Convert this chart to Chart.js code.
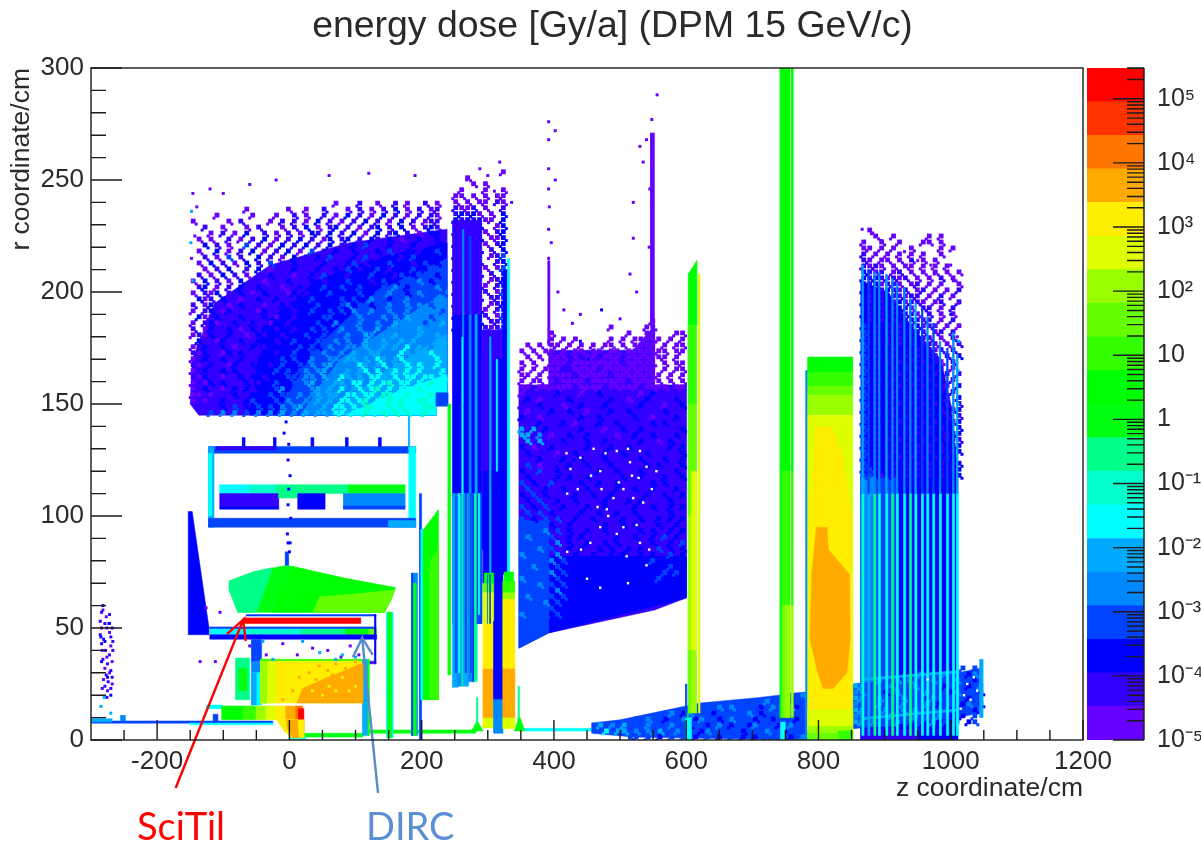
<!DOCTYPE html>
<html lang="en">
<head>
  <meta charset="UTF-8">
  <title>energy dose</title>
  <script src="https://cdn.jsdelivr.net/npm/chart.js"></script>
  <style>
    html, body { margin: 0; background: #fff; overflow: hidden; width: 1201px; height: 846px; }
    canvas { position: absolute; top: 0; filter: blur(.4px); }
    #doseChart { left: 0; }
    #scaleChart { left: 1087px; }
    .note { position: absolute; top: 802px; font: 38px Lato, sans-serif; }
  </style>
</head>
<body>
  <canvas id="doseChart" width="1225" height="846"></canvas>
  <canvas id="scaleChart" width="114" height="846"></canvas>
  <div class="note" style="left:137px;color:#ff0000">SciTil</div>
  <div class="note" style="left:366px;color:#5b8fd3">DIRC</div>

  <script>
    const xTicks = [-200, 0, 200, 400, 600, 800, 1000, 1200];
    const xMinor = [-250, -150, -100, -50, 50, 100, 150, 250, 300, 350, 450, 500, 550, 650, 700, 750, 850, 900, 950, 1050, 1100, 1150];
    const yTicks = [0, 50, 100, 150, 200, 250, 300];
    const yMinor = [10, 20, 30, 40, 60, 70, 80, 90, 110, 120, 130, 140, 160, 170, 180, 190, 210, 220, 230, 240, 260, 270, 280, 290];

    // colour scale: band edges in Gy/a, bottom to top
    const bandEdges = [1e-5, 3.34e-5, 1.12e-4, 3.73e-4, 1.25e-3, 4.17e-3, 1.39e-2, 4.66e-2, 0.156, 0.52, 1.74, 5.81, 19.4, 64.9, 217, 724, 2420, 8090, 27000, 90400, 302000];
    const palette = ['#6600ff', '#3300ff', '#0000ff', '#0044ff', '#0088ff', '#00aaff', '#00ffff', '#00ffcc', '#00ff88', '#00ff11',
                     '#00ff00', '#33ff00', '#66ff00', '#99ff00', '#ddff00', '#ffee00', '#ffaa00', '#ff7700', '#ff3300', '#ff0000'];
    const scaleValues = [1e5, 1e4, 1e3, 100, 10, 1, 0.1, 0.01, 0.001, 1e-4, 1e-5];
    const scaleLabels = ['10⁵', '10⁴', '10³', '10²', '10', '1', '10⁻¹', '10⁻²', '10⁻³', '10⁻⁴', '10⁻⁵'];
    const scaleMinor = [2, 3, 4, 5, 6, 7, 8, 9];

    // grid cells, one character per cell (level in base 20, blank = empty)
    const cellZ = 9, cellR = 2.67;

    const coilGrid = { z: -150, r: 241, cols: 43, rows: [
      "                        0   1  0  1 0  1 0",
      "         0      0  0  1   0 1 0 1 2 0 1 01",
      "    0     0   0  1 0  1 0 2 1 0 2 1 0 1 10",
      "0     0 1    0 1 1 0 2 1 0 1 2 1 0 2 1 011",
      "  1  0   0 1   0 1 2 0 12 1 0 12 1 2 0 121",
      "   0 1 0 2  1 0 1 0 21 2 1 2 0 2 12 1 0 22",
      " 0 0  1 0 1 2 0 1 2 1 02 12 1 21 2 0 12 12",
      "  2 1 0  3 1 0 2 1 2 1 2 1 2 3 1 2 1 2 1 2",
      " 0  2 0 1 2 0 1 2 0 3 1 21 2 1 2 31 2 1 23",
      "  1 0 3 1  2 1 0 2 1 2 3 1 2 3 1 2 1 3 2 2",
      " 0 2 1 0 2 1 3 1 2 1 12 1 23 1 2 3 2 1 3 2",
      "  0 1 2  1 2 0 1 2 1 2 12 3 12 3 1 2 3 2 3",
      " 1 0 2 1 0 1 2 1 01 2 3 2 1 2 3 2 13 2 3 2",
      "0 2 1 0 2 1 0 1 2 1 2 1 2 3 2 1 3 2 3 4 2 3",
      " 12 0 1 21 2 1 0 12 2 32 3 23 2 3 4 23 3 4",
      "0 102 1 2 012 1 02 1 2 32 2 3 23 43 2 4 3 3",
      " 201 21 0 121 21 12 3 22 3 32 43 23 4 3 3 4",
      "1 021 0 2 1 01 21 2 23 2 34 3 2 34 34 4 3 4",
      "0 12 021 1 021 2 12 32 3 3 43 43 4 34 4 4 3",
      " 2012 1 21 12 02 12 2 33 2 34 3 4 4 5 4 3 4",
      "0 1201 21 2 102 12 2 3 24 3 43 43 54 4 34 5",
      "1 02 12 0 212 12 1 23 32 43 4 35 4 4 45 4 4",
      "0102 12 10 21 21 2 32 3 3 43 54 4 5 4 54 5 4",
      " 21 02 12 12 21 23 2 33 4 43 54 5 45 5 4 55",
      "012 12 01 2 12 2 23 32 43 44 5 45 5 6 5 4 5",
      "1021 02 21 12 12 3 23 43 4 54 55 4 65 5 6 5",
      "012 12 12 1 2 23 32 43 44 55 5 65 56 5 5 65",
      "10 21 02 12 21 3 23 4 45 44 65 56 5 6 65 6 5",
      "012 12 21 12 23 3 34 45 4 5 56 6 56 6 6 5 66",
      "102 10 12 2 1 2 33 44 54 65 5 66 56 66 66 6",
      "0102 21 12 12 3 23 45 4 55 66 6 67 66 6 76 6",
      "012 10 2 21 2 34 33 45 5 6 56 67 6 66 76 6 7",
      "00101 12 12 23 33 4 45 55 66 66 77 67 6 7 66",
      "0101 2 1 23 2 3 4 34 5 5 66 67 6 7 76 77 6",
      " 1 1 2 3 2 3 3 4 45 4 5 66 6 77 67 7 6 77",
      "   3 4 4 3 4 4 5 4 5 55 66 6 7 67 7 7 67"
    ] };

    const gateFringe = { z: 247, r: 255, cols: 9, rows: [
      "        0",
      "  0      ",
      "   0 0   ",
      " 0   0  0",
      "00 0 0 00",
      "0 0 00 10",
      "1001 0  1",
      "12120 0 2",
      "2121200 2",
      "21212  02",
      "121220 12",
      "21212 002",
      "212120 12",
      "12121 1 2",
      "21212 013",
      "12121  12",
      "212120 03",
      "12121 1 3",
      "21212 012",
      "121210 13",
      "212121 03",
      "12121 113",
      "21212 012",
      "212120 13",
      "121211 03",
      "21212 113",
      "212121013"
    ] };

    const wallFringe = { z: 347, r: 188.4, cols: 28, rows: [
      "                      0     ",
      "               0     00     ",
      "     0            0  00   00",
      "     0 0 0     0 0 00000 0 0",
      " 0 0 00 0 0 0 00 0 0000 0 00",
      "0 0 00 0 00 00 00 0000000 00",
      " 0 0 000 0 00 000 0000000 0 ",
      "0 0  000 00000000 00000 0 00",
      "0 0 0001 0000 000000000 0 00",
      "00 0 0000100000100000000 0 0",
      "0 00 0100001000000100000 0 0",
      "00 0000001000010000010000 00"
    ] };

    const wallPatches = { z: 347, r: 156.25, cols: 28, rows: [
      "0  1  2   0  2  1   0 2   1 ",
      " 2 0 1  2   1  2  0  2 1  2 ",
      "1  2   0  2   2  1  2   0  2",
      " 0 1 2  2  0   2  2  1  2   ",
      "2  0  1   2  2 1   2  0   2 ",
      " 1 2   2 0   2  2  1  2 2   ",
      "5 5 2  1  2   0  2  2   1  2",
      "55 4 0  2  2 1  0  2  2   2 ",
      " 5 5 1 2   2  2  1  2  0 2  ",
      "2 0  2  1  2   2  2  1   2 2",
      " 2 1  0  2  1 2  2   2 1   2",
      "1  2   2  2   2  1  2   2  2",
      " 3 0 1  2  2   2  1  2 2   2",
      "2  3  2   1  2  2   2  1  2 ",
      " 2 1  2 2  2   1 2  2   2  2",
      "3 2  3 1  2  2  2  1  2 2   ",
      " 3  2  2   2 1  2  2  2   2 ",
      "2 3 2 1  2  2  2  1  2  2  2",
      " 2 3  2  2 1  2   2 2  1 2  ",
      "3 2 3  2   2  2 1  2  2  2 2",
      " 3 3 2  1 2  2  2  2  1  2  ",
      "3 2 3 3  2  2 1  2  2  2 2 2",
      " 3 3 2  2  1  2  2 2   2  2 ",
      "3 3 4 3 2  2  2  1  2 2  2 2",
      " 4 3 3  2 2  1  2  2  2 3 2 ",
      "3 3 3 4 2  2  2 2  1  2  2 3",
      " 3 4 3  2 2  2 2  2 2  3 2 2",
      "4 3 3 4  2  2  2 2  2 2  3 2",
      " 3 3 4 3 2 2  2  2 2  3 2  2",
      "3 4 3 3 2  2 2  2  2 2 2 3 2",
      " 3 3 4 3  2 2 2  2 2  2 3 3 ",
      "4 3 3 3 2 2  2 2  2 2  3 2 ",
      " 3 4 3 3 2  2 2 2  2 2 2",
      "3 3 3 4 2 2  2 2 2 2 ",
      " 4 3 3 3 2 2 2 2",
      "3 3 4 3 2 2 ",
      " 3 3 3 2 ",
      "4 3 3 3"
    ] };

    const pipeGrid = { z: 457, r: 21.4, cols: 36, rows: [
      "                                 334",
      "                           334 3423 3",
      "                  3 34 4 3 32 43 52 343",
      "            34 24 3 23 33 4 2 3 24 32 43",
      "       3 43 2 34 24 32 4 3 2 32 3 23 42",
      " 5 4 5 3 4 3 43 2 32 4 23 24 3 2 4 32 3",
      "  6 55 4 4 5 34 3 24 3 3 2 3 43 2 3 4 3 2",
      "      33 3 2 3 3 2 3 2 3 2 2 3 3 2 4 3 2"
    ] };

    const endcapPipe = { z: 852, r: 33.5, cols: 22, rows: [
      "                  3 3 ",
      "           4 3 4 3 24 2",
      "    4 34 4 3 4 3 4 32 3",
      "54 3 34 3 43 3 2 3 2 4 2",
      "44 3 2 43 3 4 3 24 3 2 ",
      "54 34 3 4 3 24 3 3 2  3 ",
      "43 34 3 4 3 4 2 3 24 2",
      "54 3 4 34 4 3 3 2 3 2 ",
      "44 3 34 3 4 3 4 2 2 3 ",
      "54 4 3 4 3 3 4 3 3 23"
    ] };

    const fwdFringe = { z: 864, r: 229, cols: 17, rows: [
      " 0               ",
      "  0  0     0 0   ",
      "0  0  0   00 0   ",
      "00 0 0  0    0 0 ",
      "1 0 0 0 0 0  0   ",
      "10 00 0 0 0 0    ",
      "1010 0 00 0 0 0  ",
      "2101 01 0 0 0 0 0",
      "21210101 0 0 1 0 ",
      "2120110 01 0 0  0",
      "21212101 01 0 0 1",
      "2121211011 0 1 0 ",
      "21212120110 01  1",
      "212121210 11 0 1 ",
      "2121212110 1 0 0 ",
      "212121212101 0 1 ",
      "3212121212010 0 0",
      "32121212121 01 1 ",
      "321212121211 0 1 ",
      "3212121212110 0 1",
      "32122121212101 1 ",
      "3212212121211 1 2",
      "32121212121210 1 ",
      "321221212121 1 0 ",
      "3212121212121 1 1",
      "32122121212121 1 ",
      "321212121212110 2",
      "32122121212121 1 ",
      "3212212121212 1 2",
      "321212121212121 1",
      "32122121212121 12",
      "3212212121212 1 1",
      "32121212121212 12",
      "321221212121212 2",
      "3212212121212 122",
      "32121212121212121",
      "32122121212121 22",
      "32122121212121212",
      "3212121212121212 ",
      "32122121212121212",
      "33122121212121212",
      "33212121212121222"
    ] };

    // solid parts as [level, z0, z1, r0, r1]
    const beamLine = [
      [3, -300, -25, 7.5, 8.5], [5, -300, -268, 8, 9.5], [6, -150, -25, 6.8, 7.6], [3, -115, -108, 8, 11.5], [4, -255, -248, 8.5, 11],
      [6, -125, -101, 14, 15.6], [9, 121, 282, 3, 4.5], [9, 23, 111, 1.3, 3], [8, 283, 285, 4, 19], [8, 346, 348, 4, 24], [6, 355, 457, 4, 5.2]
    ];
    const trackerStrips = [
      [3, -120, 131, 49.5, 50.5], [6, -120, -62, 47, 49.5], [7, -62, 20, 47, 49.5], [8, 20, 85, 47, 49.5], [10, 85, 120, 47, 49.5], [12, 120, 132, 47, 49.5],
      [2, -120, 132, 45, 47], [3, -65, 131, 55.3, 56], [2, 129, 131, 34, 56], [1, 115, 131, 34, 35.2]
    ];
    const innerBlocks = [
      [8, -81, -60, 18, 36.6], [9, -76, -64, 22, 32],
      [3, -57, -42, 35, 45], [4, -57, -42, 30, 35], [6, -57, -42, 15.6, 30], [5, -57, -50, 15.6, 30],
      [15, -43, 111, 16.5, 36], [14, -43, -22, 16.5, 36], [13, -43, -34, 16.5, 36], [11, -43, 111, 35.4, 36],
      [5, 111, 119, 2, 36], [9, 119, 121, 2, 36],
      [10, -102, -70, 9, 15.2], [11, -70, -50, 9, 15.2], [13, -50, -35, 9, 15.2], [14, -35, -20, 9, 15.2], [15, -20, -5, 9, 15.2], [16, -5, 10, 9, 15.2], [17, 10, 20, 9, 15.2],
      [19, 14, 22, 1, 14], [14, -6, 12, 8, 9], [12, -2, 10, 6, 7], [6, 0, 25, 0.2, 1.5],
      [6, 147, 157, 1, 57], [9, 149, 155, 1, 57], [4, 185, 194, 2, 74.5], [3, 185, 187, 2, 74.5], [9, 188, 192, 2, 70],
      [3, 197, 200, 0, 110], [6, 199, 203, 18, 94]
    ];
    const emcFrame = [
      [3, -122, 191, 128, 131], [1, -110, -20, 129.5, 131], [5, -122, -114, 95, 131], [6, -122, -117, 100, 128], [6, 181, 191, 95, 131],
      [3, -122, 191, 95, 99], [5, 150, 191, 95, 98],
      [2, -71, -67, 131, 135], [2, -24, -20, 131, 135], [2, 33, 37, 131, 135], [2, 85, 89, 131, 135], [2, 135, 139, 131, 135], [5, 180, 182, 131, 145],
      [6, -105, -60, 110, 114], [7, -60, -20, 110, 114], [8, -20, 90, 110, 114], [9, 90, 175, 110, 114],
      [1, -105, -16, 104, 110], [2, -105, -16, 103, 104], [8, -16, 13, 108, 110], [2, 13, 54, 103, 110], [4, 82, 175, 104, 110], [3, 82, 175, 103, 104.5]
    ];
    const coilCorner = [[3, 222, 240, 149, 155]];
    const gateStripes = [
      [9, 240, 244, 29, 150],
      [2, 247, 291, 52, 190], [1, 247, 291, 190, 232], [1, 291, 330, 85, 183],
      [3, 247, 291, 52, 110], [5, 247, 255, 23.5, 110], [4, 255, 261, 24, 110], [8, 261, 263, 24, 110], [5, 263, 271, 24, 110], [4, 271, 277, 26, 110], [3, 277, 280, 26, 110],
      [8, 280, 284, 26, 110], [3, 284, 291, 52, 110], [6, 261, 263, 110, 180], [4, 272, 275, 110, 190], [5, 281, 284, 110, 190], [4, 262, 264, 180, 228], [3, 272, 275, 190, 225],
      [3, 251, 253, 30, 110], [6, 256, 258, 30, 110], [3, 266, 268, 30, 110], [3, 274, 275, 30, 110], [6, 286, 288, 56, 110],
      [2, 293, 309, 70, 120], [5, 303, 305, 70, 180], [2, 309, 323, 52, 170], [6, 313, 315, 120, 170], [2, 323, 332, 74, 210], [6, 330, 333, 74, 215],
      [14, 293, 309, 5.4, 10], [16, 293, 309, 10, 32], [15, 293, 309, 32, 52], [14, 293, 309, 52, 66], [12, 293, 309, 66, 70], [10, 295, 309, 70, 74.5], [3, 299, 300, 52, 74], [3, 303, 304, 52, 74],
      [2, 309, 323, 18, 53], [4, 309, 323, 3, 18],
      [14, 323, 341, 5, 10], [16, 323, 341, 10, 32], [15, 323, 341, 32, 63], [13, 323, 341, 63, 66], [11, 323, 341, 66, 71], [10, 325, 339, 71, 75]
    ];
    const spikes = [[0, 391, 394, 176, 214], [0, 546, 552, 185, 271]];
    const detectorColumn = [
      [11, 603, 616, 150, 185], [12, 603, 616, 100, 150], [13, 603, 616, 40, 100], [14, 608, 616, 40, 120], [12, 603, 608, 12, 40], [13, 608, 616, 12, 40],
      [9, 600, 603, 5, 12], [14, 619, 621, 12, 208], [6, 600, 608, 0, 10], [3, 599, 601, 10, 25]
    ];
    const dipoleColumn = [
      [9, 742, 745, 10, 300], [10, 745, 757, 120, 300], [11, 745, 757, 60, 120], [12, 745, 757, 10, 60], [13, 750, 757, 10, 60],
      [10, 759, 762, 120, 300], [11, 759, 762, 60, 120], [13, 759, 762, 10, 60], [6, 743, 750, 0, 8]
    ];
    const calorimeter = [
      [4, 781, 784, 0, 165], [10, 784, 852, 164, 171], [11, 784, 852, 158, 164], [12, 784, 852, 154, 158], [13, 784, 852, 145, 154], [14, 784, 852, 5, 145]
    ];
    const calorimeterFoot = [[14, 784, 852, 4, 13.5], [13, 784, 852, 1, 6], [11, 830, 852, 0, 4], [12, 784, 830, 0, 3]];
    const fwdBase = [[2, 864, 1011, 0, 118], [4, 864, 885, 6, 118], [3, 885, 920, 6, 118], [1, 866, 950, 0, 5]];
    const fwdCap = [[5, 1044, 1049, 10, 36]];
    // forward stripes as [z, r top, upper level, lower level]
    const fwdZ = [866, 875, 884, 891, 902, 911, 918, 929, 938, 946, 956, 964, 973, 983, 994, 1003, 1009];
    const fwdTop = [212, 210, 209, 209, 208, 206, 204, 202, 197, 195, 193, 189, 186, 178, 175, 182, 172];
    const fwdUpper = [5, 3, 4, 4, 5, 4, 4, 4, 4, 5, 3, 4, 3, 4, 3, 4, 5];
    const fwdLower = [7, 5, 8, 6, 6, 8, 6, 6, 8, 6, 6, 6, 6, 6, 6, 6, 6];

    // free shapes as [level, z, r, z, r, ...]
    const shapes1 = [
      [2, -153, 102, -147, 102, -122, 51, -122, 47, -153, 47],
      [9, -91, 71, -55, 75, -4, 78, 35, 75.4, 87, 72, 160, 68, 155, 63.4, 144, 57, -78, 57, -91, 67],
      [8, -91, 71, -55, 75, -25, 77, -50, 57, -78, 57, -91, 67],
      [10, 5, 77.5, 35, 75.4, 87, 72, 160, 68, 144, 57, -25, 57],
      [12, 46, 64, 90, 65, 160, 67, 155, 63.4, 144, 57, 35, 57],
      [19, -70, 52, 108, 52, 108, 54.5, -70, 54.5],
      [3, -6, 78, -1, 78, -1, 84, -6, 84],
      [16, 11, 16.5, 20, 23, 50, 27, 76, 30, 107, 34, 111, 34, 111, 16.5],
      [15, -19, 9, 22, 9, 22, 1, 3, 1, -8, 4],
      [16, -4, 9, 12, 9, 14, 1, 5, 1, -3, 5],
      [9, 275, 4, 283, 8, 285, 8, 293, 4],
      [9, 340, 4, 347, 10, 349, 10, 356, 4],
      [10, 202, 93.7, 225, 102.7, 225, 18, 202, 18],
      [11, 212, 80, 225, 85, 225, 18, 212, 18],
      [10, 603, 208, 616, 214, 616, 185, 603, 185]
    ];
    // smooth background under the coil hits, from the dark rim to the bright corner
    const coilBase = [
      [1, -147, 170, -113, 195, -29, 212, 91, 222, 238, 228, 238, 155, 222, 155, 222, 145, -137, 145, -150, 150],
      [2, -60, 145, -40, 185, 40, 205, 130, 215, 238, 222, 238, 155, 222, 155, 222, 145],
      [3, -20, 145, 40, 175, 130, 200, 238, 215, 238, 155, 222, 155, 222, 145],
      [4, 16, 145, 76, 170, 167, 187, 238, 201, 238, 155, 222, 155, 222, 145],
      [5, 61, 145, 137, 163, 238, 181, 238, 155, 222, 155, 222, 145],
      [6, 84, 145, 167, 156, 238, 163, 238, 155, 222, 155, 222, 145]
    ];
    const wallBase = [
      [1, 347, 158.5, 392, 158.5, 392, 47.8, 347, 41],
      [1, 392, 174, 520, 174, 552, 185, 552, 58, 392, 47.8],
      [1, 552, 158.5, 600, 158.5, 600, 63.4, 552, 58],
      [2, 392, 82, 600, 82, 600, 63.4, 392, 47.8],
      [3, 347, 98, 392, 98, 392, 47.8, 347, 41]
    ];
    const pipeShape = [[3, 457, 7.6, 500, 9, 621, 16.5, 711, 19, 780, 21.4, 780, 0, 520, 1.3, 457, 3]];
    const endcapShape = [[3, 852, 25, 1011, 30, 1044, 32, 1044, 12, 1011, 10, 852, 5]];
    const fwdUpperBase = [[2, 864, 205, 905, 200, 940, 185, 985, 170, 1000, 150, 1011, 118, 864, 118]];
    const calorimeterShapes = [
      [15, 795, 140, 820, 140, 838, 125, 850, 100, 850, 8, 786, 8, 786, 100],
      [16, 797, 95, 813, 95, 815, 85, 847, 74, 848, 45, 843, 30, 822, 23, 807, 23, 799, 30, 787, 45, 790, 75]
    ];
    const fwdLines = [[5, 866, 26.5, 1011, 30, 1011, 31, 866, 27.5], [5, 866, 9, 1011, 13, 1011, 14, 866, 10]];

    // stray hits as [z, r] lists, by level
    const hitsPurple = [[-282, 58], [-277, 55], [-284, 50], [-272, 48], [-270, 42], [-283, 40], [-276, 37], [-268, 35], [-279, 32], [-272, 30], [-281, 27], [-268, 25], [-275, 22],
      [-135, 35], [-112, 35], [-60, 42], [-35, 38], [-10, 43], [12, 38], [35, 41], [58, 40], [78, 37], [92, 42], [105, 38], [-126, 59], [-105, 57],
      [-146, 244], [-120, 246], [-100, 244], [-60, 248], [-20, 250], [60, 252], [120, 253], [190, 252], [-140, 238], [-143, 225], [-148, 215],
      [392, 276], [392, 268], [402, 272], [392, 255], [392, 246], [393, 238], [402, 250], [392, 228], [396, 222], [406, 200], [392, 215], [415, 192], [428, 186], [440, 190],
      [556, 288], [548, 277], [540, 268], [530, 265], [535, 258], [545, 246], [520, 240], [548, 238], [520, 224], [544, 220], [515, 208], [525, 200], [500, 188],
      [288, 255], [300, 252], [318, 258], [268, 250], [310, 245], [336, 240],
      [866, 228], [880, 226], [895, 223], [930, 218], [950, 214], [970, 212], [975, 208], [1000, 212], [1004, 205], [1012, 195], [1010, 180]];
    const hitsIndigo = [[-284, 57], [-279, 52], [-272, 56], [-286, 47], [-281, 45], [-276, 50], [-270, 46], [-284, 43], [-278, 40], [-272, 38], [-267, 40], [-282, 36], [-275, 34], [-270, 31],
      [-277, 29], [-268, 28], [-274, 26], [-279, 24], [-270, 23], [-276, 19], [-283, 23], [-272, 52], [-267, 44], [-286, 53]];
    const hitsBlue = [[-285, 46], [-279, 44], [-273, 52], [-268, 50], [-284, 35], [-275, 28], [-270, 20], [-282, 60], [-2, 125], [1, 118], [-1, 112], [-3, 92], [1, 88], [-2, 105], [0, 84], [-1, 132], [2, 99],
      [-5, 142], [-8, 137], [-2, 88], [430, 125], [404, 122], [452, 170], [440, 178], [472, 192], [1000, 190], [942, 214]];
    const hitsCyan = [[-148, 236], [-149, 222], [-146, 205], [-280, 19], [-285, 15], [-270, 12], [1012, 178], [1011, 165], [1011, 150], [20, 44], [46, 39], [70, 36], [80, 38], [100, 37], [-25, 36], [-40, 44]];
    const hitsOrange = [[30, 30], [45, 33], [58, 31], [70, 34], [85, 32], [100, 35], [15, 28], [65, 29], [40, 27], [90, 28], [102, 31], [22, 20], [-10, 18], [5, 22]];
    const hitsYellow = [[60, 24], [80, 28], [100, 24], [90, 22], [70, 22], [50, 20], [35, 22]];
    // bins with no entries inside the dense wall
    const holes = [[419, 128], [440, 126], [425, 121], [460, 130], [470, 120], [478, 128], [495, 129], [512, 130], [530, 129], [540, 122], [518, 118], [498, 115], [472, 112], [456, 118],
      [436, 112], [420, 110], [466, 104], [480, 103], [505, 112], [520, 108], [535, 106], [548, 112], [525, 96], [505, 95], [495, 92], [482, 100], [470, 95], [455, 88], [441, 85], [420, 84],
      [530, 88], [544, 85], [510, 82], [555, 120], [490, 108], [528, 117], [515, 124], [450, 72], [470, 68], [512, 70], [540, 78]];
    const holesFar = [[1025, 25], [1030, 18], [1020, 20], [1035, 28], [965, 27], [1040, 22], [1015, 14]];

    const scitilArrow = [[-172, -21.4], [-70, 53.6], [-94.5, 47.3], [-70, 53.6], [-66, 44.2]];
    const dircArrow = [[134, -23.7], [110, 45.5], [96, 37], [110, 45.5], [126, 38]];

    const datasets = [];

    function addShape(s) {
      const data = [];
      for (let i = 1; i < s.length; i += 2) data.push({ x: s[i], y: s[i + 1] });
      data.push(data[0]);
      datasets.push({ type: 'line', data: data, fill: 'shape', backgroundColor: palette[s[0]], borderColor: palette[s[0]], borderWidth: 0.5, pointRadius: 0, tension: 0 });
    }
    function addRects(list) {
      list.forEach(b => addShape([b[0], b[1], b[3], b[2], b[3], b[2], b[4], b[1], b[4]]));
    }
    function addCells(points, color, radius) {
      datasets.push({ type: 'scatter', data: points, pointStyle: 'rect', pointRadius: radius, pointHoverRadius: radius, pointBorderWidth: 0, borderWidth: 0, backgroundColor: color });
    }
    function addGrid(g) {
      const big = {}, small = {};
      g.rows.forEach((row, i) => {
        row.slice(0, g.cols).split('').forEach((c, j) => {
          if (c === ' ') return;
          const lvl = parseInt(c, 20);
          (big[lvl] = big[lvl] || []).push({ x: g.z + (j + 0.5) * cellZ, y: g.r - (i + 0.5) * cellR });
          // small bin on a cell corner, alternating sides so no diagonal shows
          const side = (i + j) % 2 ? j + 1 : j;
          (small[lvl] = small[lvl] || []).push({ x: g.z + side * cellZ, y: g.r - (i + 1) * cellR });
        });
      });
      Object.keys(big).forEach(l => addCells(big[l], palette[l], 3.4));
      Object.keys(small).forEach(l => addCells(small[l], palette[l], 2.1));
    }
    function addHits(list, color, radius) {
      addCells(list.map(p => ({ x: p[0], y: p[1] })), color, radius || 2.1);
    }
    function addArrow(list, color) {
      datasets.push({ type: 'line', data: list.map(p => ({ x: p[0], y: p[1] })), borderColor: color, borderWidth: 2.4, pointRadius: 0, tension: 0, fill: false, clip: false });
    }

    // paint order, first is at the back
    addRects(beamLine);
    addRects(trackerStrips);
    addRects(innerBlocks);
    shapes1.forEach(addShape);
    addHits(hitsOrange, palette[16]);
    addHits(hitsYellow, palette[15]);
    addRects(emcFrame);
    coilBase.forEach(addShape);
    addGrid(coilGrid);
    addRects(coilCorner);
    addGrid(gateFringe);
    addRects(gateStripes);
    wallBase.forEach(addShape);
    addGrid(wallPatches);
    addGrid(wallFringe);
    addRects(spikes);
    addHits(holes, '#ffffff', 1.7);
    pipeShape.forEach(addShape);
    addGrid(pipeGrid);
    addRects(detectorColumn);
    addRects(dipoleColumn);
    addRects(fwdBase);
    fwdUpperBase.forEach(addShape);
    endcapShape.forEach(addShape);
    addGrid(endcapPipe);
    addRects(fwdCap);
    addGrid(fwdFringe);
    fwdLines.forEach(addShape);
    fwdZ.forEach((z, i) => {
      addRects([[fwdLower[i], z, z + 3, 2, 110], [fwdUpper[i], z, z + 2.2, 110, fwdTop[i]]]);
    });
    addHits(holesFar, '#ffffff', 1.7);
    addRects(calorimeter);
    calorimeterShapes.forEach(addShape);
    addRects(calorimeterFoot);
    addHits(hitsPurple, palette[0]);
    addHits(hitsIndigo, palette[1]);
    addHits(hitsBlue, palette[2]);
    addHits(hitsCyan, palette[5]);
    addArrow(scitilArrow, '#ff0000');
    addArrow(dircArrow, '#5b8bc9');
    datasets.reverse();

    const textColor = '#2a2a2a';
    const lineColor = '#1a1a1a';
    const labelFont = { family: '"Liberation Sans"', size: 26 };
    const titleFont = { family: '"Liberation Sans"', size: 26.5 };

    const innerTicks = {
      id: 'innerTicks',
      afterDatasetsDraw(chart) {
        const { ctx, chartArea: a, scales } = chart;
        ctx.save();
        ctx.strokeStyle = lineColor;
        ctx.lineWidth = 1.4;
        ctx.strokeRect(a.left, a.top, a.right - a.left, a.bottom - a.top);
        ctx.beginPath();
        const xLine = (v, len) => { const p = scales.x.getPixelForValue(v); ctx.moveTo(p, a.bottom); ctx.lineTo(p, a.bottom - len); };
        const yLine = (v, len) => { const p = scales.y.getPixelForValue(v); ctx.moveTo(a.left, p); ctx.lineTo(a.left + len, p); };
        xTicks.forEach(v => xLine(v, 20));
        xMinor.forEach(v => xLine(v, 10));
        yTicks.forEach(v => yLine(v, 31));
        yMinor.forEach(v => yLine(v, 15));
        ctx.stroke();
        ctx.restore();
      }
    };

    new Chart(document.getElementById('doseChart'), {
      type: 'line',
      data: { datasets: datasets },
      plugins: [innerTicks],
      options: {
        responsive: false,
        animation: false,
        events: [],
        plugins: {
          legend: { display: false },
          tooltip: { enabled: false },
          title: {
            display: true,
            text: 'energy dose [Gy/a] (DPM 15 GeV/c)',
            color: textColor,
            font: { family: '"Liberation Sans"', size: 37.4, weight: 'normal' },
            padding: { top: 4.6, bottom: 18.5 }
          }
        },
        scales: {
          x: {
            type: 'linear', min: -300, max: 1200, position: 'bottom',
            afterBuildTicks: s => { s.ticks = xTicks.map(v => ({ value: v })); },
            afterFit: s => { s.height = 106; },
            grid: { display: false, drawTicks: false },
            border: { display: false },
            ticks: { color: textColor, font: labelFont, padding: 6, maxRotation: 0, autoSkip: false, callback: v => String(v) },
            title: { display: true, text: 'z coordinate/cm', align: 'end', color: textColor, font: titleFont, padding: { top: 0, bottom: 41 } }
          },
          y: {
            type: 'linear', min: 0, max: 300, position: 'left',
            afterBuildTicks: s => { s.ticks = yTicks.map(v => ({ value: v })); },
            afterFit: s => { s.width = 91; },
            grid: { display: false, drawTicks: false },
            border: { display: false },
            ticks: { color: textColor, font: labelFont, padding: 7, autoSkip: false, callback: v => String(v) },
            title: { display: true, text: 'r coordinate/cm', align: 'end', color: textColor, font: titleFont, padding: { top: 6, bottom: 0 } }
          },
          y2: {
            type: 'linear', position: 'right',
            afterFit: s => { s.width = 142; },
            grid: { display: false, drawTicks: false },
            border: { display: false },
            ticks: { display: false }
          }
        }
      }
    });

    const scaleTicks = {
      id: 'scaleTicks',
      afterDatasetsDraw(chart) {
        const { ctx, chartArea: a, scales } = chart;
        ctx.save();
        ctx.strokeStyle = lineColor;
        ctx.lineWidth = 1.4;
        ctx.beginPath();
        ctx.moveTo(a.right, a.top);
        ctx.lineTo(a.right, a.bottom);
        ctx.moveTo(a.right - 17, a.top);
        ctx.lineTo(a.right, a.top);
        scaleValues.forEach(v => {
          const p = scales.y.getPixelForValue(v);
          ctx.moveTo(a.right, p);
          ctx.lineTo(a.right - 31, p);
          scaleMinor.forEach(m => {
            const q = scales.y.getPixelForValue(v * m);
            if (q < a.top) return;
            ctx.moveTo(a.right, q);
            ctx.lineTo(a.right - 17, q);
          });
        });
        ctx.stroke();
        ctx.restore();
      }
    };

    new Chart(document.getElementById('scaleChart'), {
      type: 'bar',
      data: {
        labels: ['dose'],
        datasets: palette.map((c, i) => ({ data: [[bandEdges[i], bandEdges[i + 1]]], backgroundColor: c, borderWidth: 0, barPercentage: 1, categoryPercentage: 1, grouped: false }))
      },
      plugins: [scaleTicks],
      options: {
        responsive: false,
        animation: false,
        events: [],
        layout: { padding: { top: 68 } },
        plugins: { legend: { display: false }, tooltip: { enabled: false } },
        scales: {
          x: { display: true, grid: { display: false, drawTicks: false }, border: { display: false }, ticks: { display: false }, afterFit: s => { s.height = 106; } },
          y: {
            type: 'logarithmic', min: 1e-5, max: 302000, position: 'right',
            afterBuildTicks: s => { s.ticks = scaleValues.map(v => ({ value: v })); },
            afterFit: s => { s.width = 57; },
            grid: { display: false, drawTicks: false },
            border: { display: false },
            ticks: {
              color: textColor, font: { family: '"Liberation Sans"', size: 25 }, padding: 13, autoSkip: false,
              callback: v => { const i = scaleValues.indexOf(v); return i < 0 ? '' : scaleLabels[i]; }
            }
          }
        }
      }
    });
  </script>
</body>
</html>
